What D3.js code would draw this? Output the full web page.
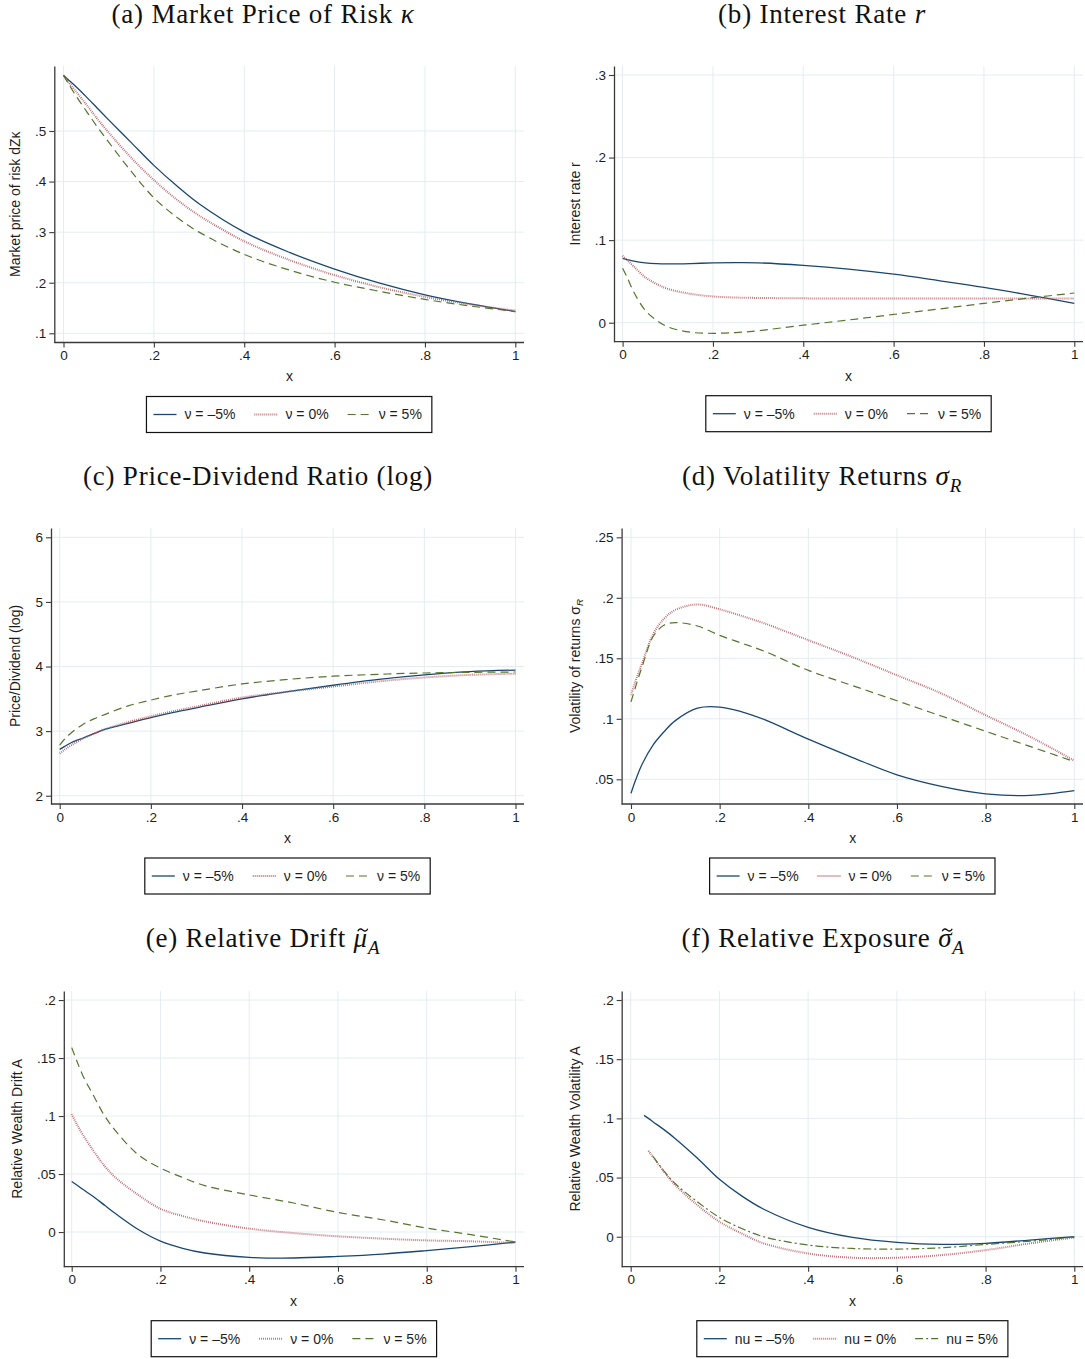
<!DOCTYPE html>
<html>
<head>
<meta charset="utf-8">
<script src="https://cdn.jsdelivr.net/npm/d3@7"></script>
<style>
  body { margin: 0; background: #fff; }
  svg text { font-family: "Liberation Sans", Arial, Helvetica, sans-serif; fill: #1e1e1e; }
  svg text.ttl { font-family: "Liberation Serif", "Times New Roman", serif; fill: #111; }
</style>
</head>
<body>
<svg id="fig" width="1085" height="1359"></svg>
<script>
// x grid shared by panels a-e
var xs = [0, 0.01, 0.025, 0.05, 0.075, 0.1, 0.15, 0.2, 0.25, 0.3, 0.4, 0.5, 0.6, 0.7, 0.8, 0.9, 1];
// panel f starts a bit later
var xsF = [0.03, 0.04, 0.05, 0.075, 0.1, 0.15, 0.2, 0.25, 0.3, 0.4, 0.5, 0.6, 0.7, 0.8, 0.9, 1];

var xTicks = [0, 0.2, 0.4, 0.6, 0.8, 1];

var nuLabels = ["ν = –5%", "ν = 0%", "ν = 5%"];
var nuLabelsF = ["nu = –5%", "nu = 0%", "nu = 5%"];

// (a) market price of risk
var kappaNeg  = [0.610, 0.602, 0.590, 0.568, 0.545, 0.522, 0.477, 0.432, 0.392, 0.356, 0.300, 0.260, 0.227, 0.199, 0.176, 0.158, 0.143];
var kappaZero = [0.610, 0.598, 0.581, 0.553, 0.524, 0.497, 0.447, 0.403, 0.365, 0.333, 0.282, 0.245, 0.215, 0.191, 0.172, 0.157, 0.145];
var kappaPos  = [0.610, 0.595, 0.573, 0.540, 0.508, 0.478, 0.420, 0.368, 0.330, 0.300, 0.256, 0.225, 0.201, 0.183, 0.167, 0.154, 0.143];
var kappaTicks = [0.1, 0.2, 0.3, 0.4, 0.5];

// (b) interest rate
var rNeg  = [0.078, 0.0765, 0.0745, 0.0725, 0.0715, 0.0712, 0.0716, 0.0724, 0.0727, 0.0725, 0.0695, 0.065, 0.0588, 0.051, 0.0428, 0.0335, 0.0235];
var rZero = [0.081, 0.076, 0.068, 0.055, 0.047, 0.041, 0.035, 0.0318, 0.0305, 0.030, 0.0295, 0.0293, 0.0293, 0.0293, 0.0293, 0.0293, 0.0293];
var rPos  = [0.066, 0.055, 0.037, 0.015, 0.003, -0.005, -0.0115, -0.0128, -0.012, -0.0097, -0.003, 0.0033, 0.010, 0.0166, 0.0234, 0.0298, 0.036];
var rTicks = [0, 0.1, 0.2, 0.3];

// (c) price-dividend ratio (log)
var pdNeg  = [2.717, 2.76, 2.82, 2.89, 2.96, 3.03, 3.12, 3.21, 3.29, 3.36, 3.50, 3.61, 3.71, 3.80, 3.87, 3.92, 3.945];
var pdZero = [2.655, 2.71, 2.78, 2.88, 2.96, 3.03, 3.14, 3.23, 3.31, 3.38, 3.52, 3.61, 3.69, 3.77, 3.83, 3.87, 3.89];
var pdPos  = [2.785, 2.87, 2.97, 3.10, 3.19, 3.26, 3.39, 3.48, 3.56, 3.62, 3.73, 3.80, 3.85, 3.88, 3.90, 3.91, 3.915];
var pdTicks = [2, 3, 4, 5, 6];

// (d) volatility of returns
var volNeg  = [0.0384, 0.049, 0.0625, 0.0785, 0.0895, 0.0985, 0.1088, 0.1097, 0.1058, 0.0995, 0.0832, 0.068, 0.0537, 0.0442, 0.038, 0.0367, 0.0406];
var volZero = [0.1197, 0.131, 0.146, 0.170, 0.183, 0.190, 0.1945, 0.1905, 0.185, 0.179, 0.165, 0.151, 0.136, 0.121, 0.103, 0.0853, 0.0654];
var volPos  = [0.114, 0.126, 0.143, 0.168, 0.1775, 0.1795, 0.1767, 0.169, 0.1625, 0.156, 0.140, 0.1274, 0.1149, 0.1023, 0.0897, 0.0772, 0.0646];
var volTicks = [0.05, 0.1, 0.15, 0.2, 0.25];

// (e) relative wealth drift
var driftNeg  = [0.0436, 0.041, 0.0368, 0.0302, 0.0228, 0.0155, 0.0022, -0.0078, -0.014, -0.0181, -0.0218, -0.0224, -0.021, -0.019, -0.016, -0.0126, -0.0086];
var driftZero = [0.1016, 0.094, 0.084, 0.0694, 0.0565, 0.0465, 0.032, 0.020, 0.0138, 0.0092, 0.0029, -0.0009, -0.0037, -0.0057, -0.0072, -0.008, -0.0095];
var driftPos  = [0.159, 0.149, 0.135, 0.117, 0.0996, 0.0867, 0.0666, 0.0551, 0.047, 0.040, 0.032, 0.025, 0.0169, 0.0106, 0.0034, -0.0023, -0.0086];
var driftTicks = [0, 0.05, 0.1, 0.15, 0.2];

// (f) relative wealth volatility
var expNeg  = [0.1025, 0.100, 0.0972, 0.0905, 0.0831, 0.0665, 0.0485, 0.0345, 0.0232, 0.0079, -0.0006, -0.0048, -0.0065, -0.0056, -0.0028, 0];
var expZero = [null, 0.0725, 0.0676, 0.055, 0.0437, 0.0268, 0.0127, 0.0028, -0.0056, -0.0141, -0.0177, -0.0177, -0.0155, -0.0113, -0.0056, -0.0006];
var expPos  = [null, null, 0.068, 0.0555, 0.045, 0.0296, 0.0163, 0.007, 0.0, -0.007, -0.0099, -0.0104, -0.0093, -0.0065, -0.0037, -0.0003];
var expTicks = [0, 0.05, 0.1, 0.15, 0.2];

// line styles (Stata s2color: navy, maroon dot, forest green dash)
var styles = [
  { color: "#1a476f", width: 1.3, dash: null },
  { color: "#b85a61", width: 2, dash: "0.8,1.2" },
  { color: "#55752f", width: 1.2, dash: "8,5" }
];

var panels = [
  { title: [["(a) Market Price of Risk "], ["κ", "it"]], tcx: 263, ty: 23,
    ytitle: [["Market price of risk dZκ"]], xv: xs, series: [kappaNeg, kappaZero, kappaPos],
    yTicks: kappaTicks, yDomain: [0.0818, 0.6285], labels: nuLabels,
    box: { axisX: 54.3, x0: 63.5, x1: 515.3, right: 524, top: 66, bottom: 342.5 } },
  { title: [["(b) Interest Rate "], ["r", "it"]], tcx: 822, ty: 23,
    ytitle: [["Interest rate r"]], xv: xs, series: [rNeg, rZero, rPos],
    yTicks: rTicks, yDomain: [-0.023, 0.3109], labels: nuLabels,
    box: { axisX: 614, x0: 622.6, x1: 1074.3, right: 1083, top: 66, bottom: 341.7 } },
  { title: [["(c) Price-Dividend Ratio (log)"]], tcx: 258, ty: 485,
    ytitle: [["Price/Dividend (log)"]], xv: xs, series: [pdNeg, pdZero, pdPos],
    yTicks: pdTicks, yDomain: [1.872, 6.144], labels: nuLabels,
    box: { axisX: 51, x0: 59.7, x1: 515.5, right: 524, top: 528, bottom: 804 } },
  { title: [["(d) Volatility Returns "], ["σ", "it"], ["R", "sub"]], tcx: 822, ty: 485,
    ytitle: [["Volatility of returns σ"], ["R", "sub"]], xv: xs, series: [volNeg, volZero, volPos],
    yTicks: volTicks, yDomain: [0.0296, 0.2577], labels: nuLabels,
    box: { axisX: 621.6, x0: 631, x1: 1074.3, right: 1083, top: 528, bottom: 804 } },
  { title: [["(e) Relative Drift "], ["μ", "tilde"], ["A", "sub"]], tcx: 263, ty: 947,
    ytitle: [["Relative Wealth Drift A"]], xv: xs, series: [driftNeg, driftZero, driftPos],
    yTicks: driftTicks, yDomain: [-0.0299, 0.2078], labels: nuLabels,
    box: { axisX: 63.8, x0: 71.7, x1: 515.5, right: 524, top: 991, bottom: 1266.7 } },
  { title: [["(f) Relative Exposure "], ["σ", "tilde"], ["A", "sub"]], tcx: 823, ty: 947,
    ytitle: [["Relative Wealth Volatility A"]], xv: xsF, series: [expNeg, expZero, expPos],
    yTicks: expTicks, yDomain: [-0.0253, 0.2076], labels: nuLabelsF, dash3: "8,3,2,3",
    box: { axisX: 621.7, x0: 630.7, x1: 1074.3, right: 1083, top: 991, bottom: 1266.7 } }
];

var svg = d3.select("#fig");

// ".5" style labels like Stata
function statafmt(d) {
  if (d === 0) return "0";
  var s = d3.format("~g")(d);
  return s.replace(/^0\./, ".");
}

// returns char index of a tilde-accented glyph, if any
function addRich(textSel, parts, size) {
  var idx = 0, tildeAt = -1;
  parts.forEach(function(p) {
    var t = textSel.append("tspan").text(p[0]);
    if (p[1] === "it" || p[1] === "tilde") t.style("font-style", "italic");
    if (p[1] === "tilde") tildeAt = idx;
    if (p[1] === "sub") t.style("font-style", "italic").attr("font-size", size * 0.7).attr("dy", size * 0.25);
    idx += p[0].length;
  });
  return tildeAt;
}

panels.forEach(function(p) {
  var b = p.box;
  var g = svg.append("g");

  var x = d3.scaleLinear().domain([0, 1]).range([b.x0, b.x1]);
  var y = d3.scaleLinear().domain(p.yDomain).range([b.bottom, b.top]);

  // grid
  g.selectAll(".hg").data(p.yTicks).enter().append("line")
    .attr("x1", b.axisX).attr("x2", b.right)
    .attr("y1", d => y(d)).attr("y2", d => y(d))
    .attr("stroke", "#e4edf0").attr("stroke-width", 1);
  g.selectAll(".vg").data(xTicks).enter().append("line")
    .attr("y1", b.top).attr("y2", b.bottom)
    .attr("x1", d => x(d)).attr("x2", d => x(d))
    .attr("stroke", "#e4edf0").attr("stroke-width", 1);

  // series
  var line = d3.line()
    .defined(d => d[1] != null)
    .x(d => x(d[0])).y(d => y(d[1]))
    .curve(d3.curveCatmullRom.alpha(0.5));
  p.series.forEach(function(vals, i) {
    var st = styles[i];
    var pts = p.xv.map((xv, k) => [xv, vals[k]]);
    g.append("path").datum(pts)
      .attr("d", line)
      .attr("fill", "none")
      .attr("stroke", st.color)
      .attr("stroke-width", st.width)
      .attr("stroke-dasharray", i === 2 && p.dash3 ? p.dash3 : st.dash);
  });

  // axes
  var yAxis = g.append("g").attr("transform", "translate(" + b.axisX + ",0)")
    .call(d3.axisLeft(y).tickValues(p.yTicks).tickFormat(statafmt).tickSize(5).tickSizeOuter(0).tickPadding(3));
  var xAxis = g.append("g").attr("transform", "translate(0," + b.bottom + ")")
    .call(d3.axisBottom(x).tickValues(xTicks).tickFormat(statafmt).tickSize(5).tickSizeOuter(0).tickPadding(3));
  xAxis.select(".domain").remove();
  g.append("line").attr("x1", b.axisX).attr("x2", b.right).attr("y1", b.bottom).attr("y2", b.bottom)
    .attr("stroke", "#3a3a3a").attr("stroke-width", 1.3);
  [yAxis, xAxis].forEach(function(a) {
    a.selectAll("path.domain").attr("stroke", "#3a3a3a").attr("stroke-width", 1.3);
    a.selectAll(".tick line").attr("stroke", "#3a3a3a").attr("stroke-width", 1.1);
    a.selectAll("text").attr("font-size", 13.5).attr("font-family", null).style("fill", "#1e1e1e");
  });

  // widest y tick label -> place y title
  var maxW = 0;
  yAxis.selectAll("text").each(function() { maxW = Math.max(maxW, this.getComputedTextLength()); });
  var ytx = b.axisX - 8 - maxW - 20;
  var yt = g.append("text")
    .attr("transform", "translate(" + ytx + "," + ((b.top + b.bottom) / 2) + ") rotate(-90)")
    .attr("text-anchor", "middle").attr("dy", "0.35em").attr("font-size", 14);
  addRich(yt, p.ytitle, 14);

  // x title
  g.append("text").attr("x", (b.x0 + b.x1) / 2).attr("y", b.bottom + 34)
    .attr("text-anchor", "middle").attr("dy", "0.35em").attr("font-size", 14).text("x");

  // panel title
  var tsize = 27;
  var tt = g.append("text").attr("class", "ttl").attr("x", p.tcx).attr("y", p.ty)
    .attr("text-anchor", "middle").attr("font-size", tsize).attr("letter-spacing", 0.8);
  var ti = addRich(tt, p.title, tsize);
  if (ti >= 0) {
    // tilde accent drawn as a small wave over the glyph
    var ext = tt.node().getExtentOfChar(ti);
    var cx0 = ext.x + ext.width / 2 + 2, cy0 = p.ty - 17;
    var tp = d3.path();
    tp.moveTo(cx0 - 5, cy0 + 1.3);
    tp.bezierCurveTo(cx0 - 3.5, cy0 - 1.8, cx0 - 1.5, cy0 - 1.3, cx0, cy0);
    tp.bezierCurveTo(cx0 + 1.5, cy0 + 1.3, cx0 + 3.5, cy0 + 1.8, cx0 + 5, cy0 - 1.3);
    g.append("path").attr("d", tp.toString()).attr("fill", "none")
      .attr("stroke", "#111").attr("stroke-width", 1.3);
  }

  // legend
  var lg = g.append("g");
  var cx = (b.axisX + b.right) / 2, ly = b.bottom + 54, lh = 36;
  var cur = 7;
  p.labels.forEach(function(lab, i) {
    var st = styles[i];
    lg.append("line").attr("x1", cur).attr("x2", cur + 23).attr("y1", lh / 2).attr("y2", lh / 2)
      .attr("stroke", st.color).attr("stroke-width", st.width)
      .attr("stroke-dasharray", i === 2 && p.dash3 ? p.dash3 : st.dash);
    var t = lg.append("text").attr("x", cur + 31).attr("y", lh / 2).attr("dy", "0.35em")
      .attr("font-size", 14).text(lab);
    cur += 31 + t.node().getComputedTextLength() + (i < 2 ? 19 : 10);
  });
  lg.insert("rect", ":first-child").attr("x", 0).attr("y", 0).attr("width", cur).attr("height", lh)
    .attr("fill", "#fff").attr("stroke", "#111").attr("stroke-width", 1.2);
  lg.attr("transform", "translate(" + (cx - cur / 2) + "," + ly + ")");
});
</script>
</body>
</html>
